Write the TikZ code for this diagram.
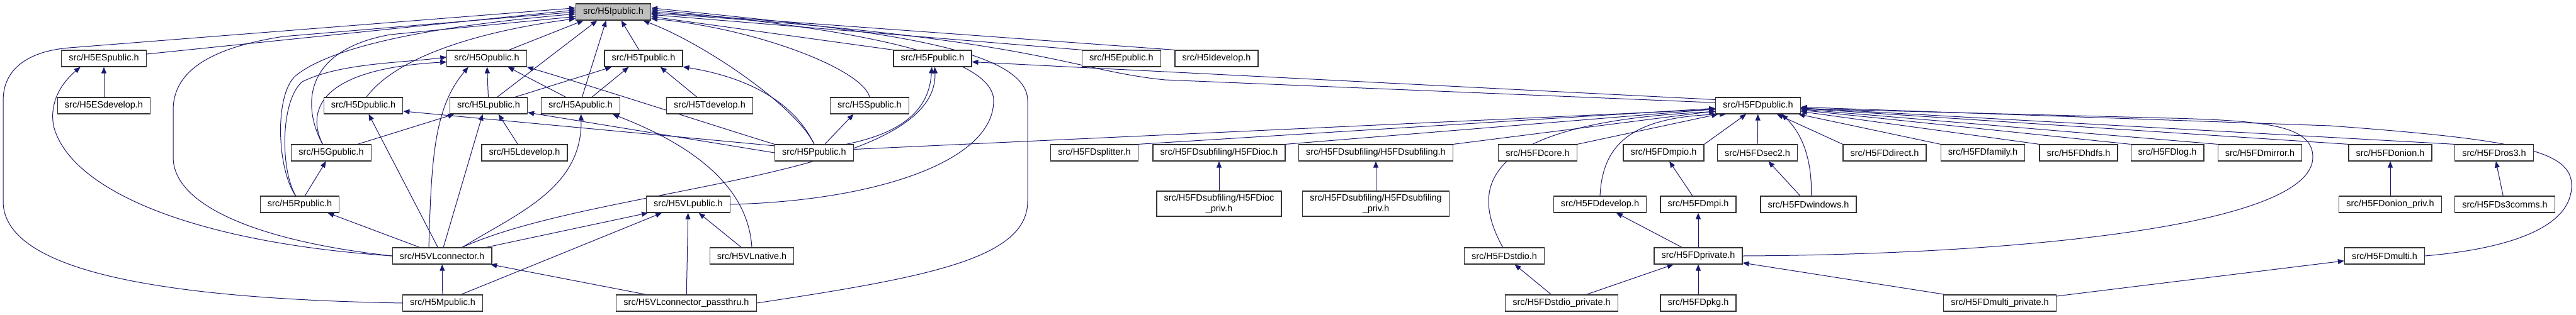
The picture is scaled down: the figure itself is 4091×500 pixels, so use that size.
\documentclass[tikz,border=0pt]{standalone}
\usepackage{fontspec}
\setmainfont{Liberation Sans}
\usetikzlibrary{arrows.meta,backgrounds}
\definecolor{depblue}{HTML}{191970}

\begin{document}
\begin{tikzpicture}[x=0.5pt,y=-0.5pt,
  file/.style={draw=black!80, line width=0.6pt, fill=white, font=\fontsize{7.25}{8.5}\selectfont, inner xsep=5.8pt, inner ysep=0pt, minimum height=13pt},
  self/.style={file, fill=black!25},
  twoline/.style={file, align=center, minimum height=20pt},
  dep/.style={draw=depblue, line width=0.5pt, -{Triangle[length=5pt,width=4pt]}}]

\useasboundingbox (0,0) rectangle (4091,500);

\node[self] (Ipub) at (974,19) {src/H5Ipublic.h};
\node[file] (ESpub) at (165,93) {src/H5ESpublic.h};
\node[file] (Opub) at (773,93) {src/H5Opublic.h};
\node[file] (Tpub) at (1022,93) {src/H5Tpublic.h};
\node[file] (Fpub) at (1481,93) {src/H5Fpublic.h};
\node[file] (Epub) at (1781,93) {src/H5Epublic.h};
\node[file] (Idev) at (1932,93) {src/H5Idevelop.h};
\node[file] (ESdev) at (165,168) {src/H5ESdevelop.h};
\node[file] (Dpub) at (577,168) {src/H5Dpublic.h};
\node[file] (Lpub) at (776,168) {src/H5Lpublic.h};
\node[file] (Apub) at (922,168) {src/H5Apublic.h};
\node[file] (Tdev) at (1127,168) {src/H5Tdevelop.h};
\node[file] (Spub) at (1381,168) {src/H5Spublic.h};
\node[file] (FDpub) at (2792,168) {src/H5FDpublic.h};
\node[file] (Gpub) at (526,243) {src/H5Gpublic.h};
\node[file] (Ldev) at (833,243) {src/H5Ldevelop.h};
\node[file] (Ppub) at (1293,243) {src/H5Ppublic.h};
\node[file] (FDsplit) at (1738,243) {src/H5FDsplitter.h};
\node[file] (FDioc) at (1936,243) {src/H5FDsubfiling/H5FDioc.h};
\node[file] (FDsub) at (2185,243) {src/H5FDsubfiling/H5FDsubfiling.h};
\node[file] (FDcore) at (2442,243) {src/H5FDcore.h};
\node[file] (FDmpio) at (2642,243) {src/H5FDmpio.h};
\node[file] (FDsec2) at (2791,243) {src/H5FDsec2.h};
\node[file] (FDdirect) at (2993,243) {src/H5FDdirect.h};
\node[file] (FDfamily) at (3149,243) {src/H5FDfamily.h};
\node[file] (FDhdfs) at (3301,243) {src/H5FDhdfs.h};
\node[file] (FDlog) at (3442,243) {src/H5FDlog.h};
\node[file] (FDmirror) at (3589,243) {src/H5FDmirror.h};
\node[file] (FDonion) at (3796,243) {src/H5FDonion.h};
\node[file] (FDros3) at (3961,243) {src/H5FDros3.h};
\node[file] (Rpub) at (476,325) {src/H5Rpublic.h};
\node[file] (VLpub) at (1093,325) {src/H5VLpublic.h};
\node[twoline] (FDiocpriv) at (1936,324) {src/H5FDsubfiling/H5FDioc\\\_priv.h};
\node[twoline] (FDsubpriv) at (2185,324) {src/H5FDsubfiling/H5FDsubfiling\\\_priv.h};
\node[file] (FDdev) at (2541,325) {src/H5FDdevelop.h};
\node[file] (FDmpi) at (2697,325) {src/H5FDmpi.h};
\node[file] (FDwin) at (2872,325) {src/H5FDwindows.h};
\node[file] (FDonionpriv) at (3796,325) {src/H5FDonion\_priv.h};
\node[file] (FDs3) at (3978,325) {src/H5FDs3comms.h};
\node[file] (VLconn) at (702,407) {src/H5VLconnector.h};
\node[file] (VLnat) at (1194,407) {src/H5VLnative.h};
\node[file] (FDstdio) at (2389,407) {src/H5FDstdio.h};
\node[file] (FDpriv) at (2697,407) {src/H5FDprivate.h};
\node[file] (FDmulti) at (3787,407) {src/H5FDmulti.h};
\node[file] (Mpub) at (703,482) {src/H5Mpublic.h};
\node[file] (VLpass) at (1090,482) {src/H5VLconnector\_passthru.h};
\node[file] (FDstdiopriv) at (2480,482) {src/H5FDstdio\_private.h};
\node[file] (FDpkg) at (2697,482) {src/H5FDpkg.h};
\node[file] (FDmultipriv) at (3176,482) {src/H5FDmulti\_private.h};

\begin{scope}[on background layer]
% into H5Ipublic.h
\draw[dep] (ESpub) -- (Ipub.177);
\draw[dep] (Opub.21) -- (Ipub.-164);
\draw[dep] (Lpub.45) -- (Ipub.-152);
\draw[dep] (Apub.80) -- (Ipub.-130);
\draw[dep] (Tpub.118) -- (Ipub.-47);
\draw[dep] (Dpub.70) .. controls (630,90) and (760,50) .. (Ipub.190);
\draw[dep] (Fpub.north west) -- (Ipub.-7);
\draw[dep] (Epub.north west) -- (Ipub.-4);
\draw[dep] (Idev.north west) -- (Ipub.0);
\draw[dep] (Ppub.north) .. controls (1265,170) and (1120,70) .. (Ipub.-16);
\draw[dep] (Spub.north) .. controls (1370,110) and (1200,45) .. (Ipub.-10);
\draw[dep] (Gpub.135) .. controls (480,170) and (480,80) .. (620,55) -- (Ipub.187);
\draw[dep] (Rpub.115) .. controls (440,270) and (435,150) .. (470,120) .. controls (520,80) and (650,45) .. (Ipub.183);
\draw[dep] (VLconn.west) .. controls (420,385) and (275,330) .. (275,250) -- (275,175) .. controls (275,110) and (340,75) .. (450,58) -- (Ipub.180);
\draw[dep] (Mpub.west) .. controls (250,475) and (5,430) .. (5,320) -- (5,160) .. controls (5,100) and (60,80) .. (110,76) -- (Ipub.174);
\draw[dep] (VLpub.east) .. controls (1380,320) and (1578,260) .. (1578,160) .. controls (1578,80) and (1300,40) .. (Ipub.3);
\draw[dep] (VLpass.east) .. controls (1480,440) and (1632,410) .. (1632,320) -- (1632,160) .. controls (1632,70) and (1350,45) .. (Ipub.6);
\draw[dep] (FDpub.176) -- (1850,127) .. controls (1700,112) and (1650,60) .. (Ipub.-2);

% into H5Opublic.h and H5Tpublic.h
\draw[dep] (Lpub) -- (Opub);
\draw[dep] (Apub.150) -- (Opub.-22);
\draw[dep] (Ppub.north west) .. controls (1150,205) and (950,140) .. (Opub.-12);
\draw[dep] (VLconn.147) .. controls (685,250) and (690,170) .. (Opub.-155);
\draw[dep] (Gpub.135) .. controls (488,180) and (500,110) .. (Opub.185);
\draw[dep] (Rpub.115) .. controls (445,270) and (445,160) .. (480,130) .. controls (540,100) and (640,100) .. (Opub.178);
\draw[dep] (Lpub.18) -- (Tpub.-165);
\draw[dep] (Apub.37) -- (Tpub.-150);
\draw[dep] (Tdev.146) -- (Tpub.-27);
\draw[dep] (Ppub.north) .. controls (1265,170) and (1200,125) .. (Tpub.-12);

% into H5Fpublic.h, H5Dpublic.h, H5Lpublic.h, H5Apublic.h, H5Spublic.h
\draw[dep] (Ppub.15) .. controls (1440,210) and (1476,170) .. (Fpub.-95);
\draw[dep] (VLconn.23) .. controls (950,295) and (1490,285) .. (Fpub.-75);
\draw[dep] (FDpub.172) -- (Fpub.-5);
\draw[dep] (Ppub.170) -- (Dpub.-8);
\draw[dep] (VLconn.116) -- (Dpub.-58);
\draw[dep] (Gpub.18) -- (Lpub.-166);
\draw[dep] (Ppub.west) -- (Lpub.-10);
\draw[dep] (VLconn.81) -- (Lpub.-125);
\draw[dep] (Ldev.128) -- (Lpub.-41);
\draw[dep] (VLconn.23) .. controls (820,340) and (925,300) .. (Apub.-87);
\draw[dep] (VLnat.north) .. controls (1190,330) and (1150,250) .. (Apub.-15);
\draw[dep] (Ppub.39) -- (Spub.-152);

% lower left
\draw[dep] (ESdev) -- (ESpub);
\draw[dep] (VLconn.west) .. controls (300,385) and (110,300) .. (85,200) .. controls (78,160) and (100,130) .. (ESpub.-160);
\draw[dep] (Rpub) -- (Gpub);
\draw[dep] (VLconn.159) -- (Rpub.-17);
\draw[dep] (VLconn.11) -- (VLpub.-168);
\draw[dep] (Mpub.25) -- (VLpub.-162);
\draw[dep] (VLpass) -- (VLpub);
\draw[dep] (VLnat) -- (VLpub);
\draw[dep] (Mpub) -- (VLconn);
\draw[dep] (VLpass.168) -- (VLconn.-10);

% into H5FDpublic.h
\draw[dep] (Ppub.5) -- (FDpub.-175);
\foreach \fd in {FDsplit,FDioc,FDsub,FDcore,FDmpio}
  \draw[dep] (\fd.north east) -- (FDpub);
\draw[dep] (FDsec2) -- (FDpub);
\foreach \fd in {FDdirect,FDfamily,FDhdfs,FDlog,FDmirror,FDonion,FDros3}
  \draw[dep] (\fd.north west) -- (FDpub);
\draw[dep] (FDstdio.100) .. controls (2335,300) and (2345,195) .. (FDpub.-172);
\draw[dep] (FDdev.north) .. controls (2545,230) and (2590,185) .. (FDpub.-165);
\draw[dep] (FDwin.72) .. controls (2878,260) and (2865,215) .. (FDpub.-20);
\draw[dep] (FDwin.134) -- (FDsec2.-38);
\draw[dep] (FDmulti.east) .. controls (3990,395) and (4084,360) .. (4084,295) .. controls (4084,240) and (4000,222) .. (3700,200) -- (FDpub.-2);
\draw[dep] (FDpriv.east) .. controls (3200,405) and (3673,360) .. (3673,250) .. controls (3673,200) and (3600,192) .. (3450,188) -- (FDpub.-4);

% lower right
\draw[dep] (FDpriv) -- (FDdev);
\draw[dep] (FDpriv) -- (FDmpi);
\draw[dep] (FDmpi) -- (FDmpio);
\draw[dep] (FDstdiopriv) -- (FDstdio);
\draw[dep] (FDstdiopriv) -- (FDpriv);
\draw[dep] (FDpkg) -- (FDpriv);
\draw[dep] (FDmultipriv) -- (FDpriv);
\draw[dep] (FDmultipriv) -- (FDmulti);
\draw[dep] (FDiocpriv) -- (FDioc);
\draw[dep] (FDsubpriv) -- (FDsub);
\draw[dep] (FDonionpriv) -- (FDonion);
\draw[dep] (FDs3) -- (FDros3);
\end{scope}

\end{tikzpicture}
\end{document}
